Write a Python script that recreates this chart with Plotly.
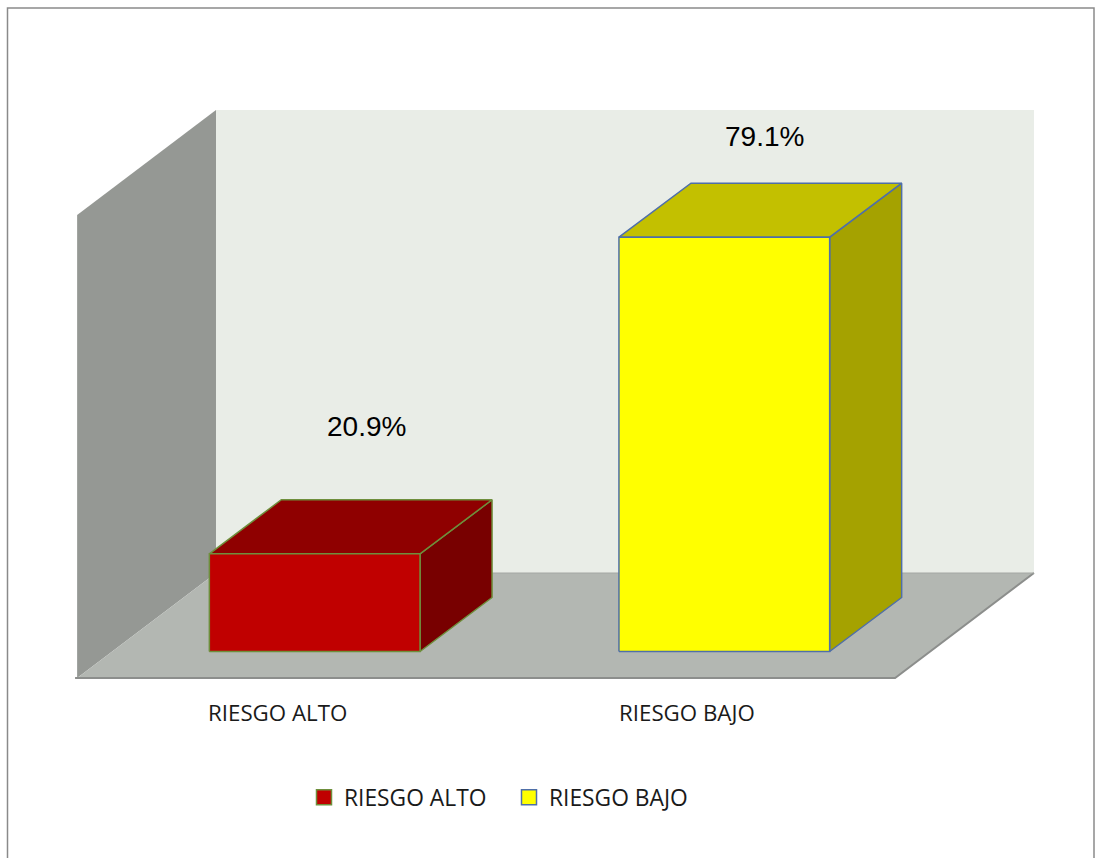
import plotly.graph_objects as go

# ---------------- data ----------------
categories = ["RIESGO ALTO", "RIESGO BAJO"]
percentages = [20.9, 79.1]
label_texts = ["20.9%", "79.1%"]

# ---------------- styles ----------------
front_colors = ["#C00000", "#FFFF00"]
top_colors = ["#8F0000", "#C3C000"]
side_colors = ["#780000", "#A5A200"]
edge_colors = ["#6E8F3C", "#4F6FA8"]
label_xshift = [52, 40]
label_yshift = [127, 101]

W, H = 1096, 858

# 3D-look geometry (axis units: x = category index, y = percent)
AXIS_MIN = 2.94          # value axis minimum at bar base
BAR_HALF = 0.2572        # half width of bar front face
BAR_DX, BAR_DY = 0.1758, 9.93   # bar depth projection
FLOOR_FRONT = -1.93      # floor level at front plane
BOX_LEFT, BOX_RIGHT = -0.580, 1.417
BOX_DX, BOX_DY = 0.339, 19.3    # full depth projection
WALL_TOP = 83.18         # top of walls at front plane
CAT_LABEL_XSHIFT = -37

X_RANGE = [-0.76831, 1.90747]
Y_RANGE = [-35.02, 122.70]

fig = go.Figure()


def poly(xs, ys, fill, line_color=None, line_width=0, name="", hover=False, text=None):
    fig.add_trace(go.Scatter(
        x=list(xs) + [xs[0]], y=list(ys) + [ys[0]],
        mode="lines", fill="toself", fillcolor=fill,
        line=dict(color=line_color or fill, width=line_width),
        hoverinfo="text" if hover else "skip", text=text,
        showlegend=False, name=name,
    ))


# back wall
bl, br = BOX_LEFT + BOX_DX, BOX_RIGHT + BOX_DX
poly([bl, br, br, bl],
     [FLOOR_FRONT + BOX_DY, FLOOR_FRONT + BOX_DY, WALL_TOP + BOX_DY, WALL_TOP + BOX_DY],
     "#E9EDE7")
# side wall
poly([BOX_LEFT, bl, bl, BOX_LEFT],
     [FLOOR_FRONT, FLOOR_FRONT + BOX_DY, WALL_TOP + BOX_DY, WALL_TOP],
     "#959894")
# floor
poly([BOX_LEFT, BOX_RIGHT, br, bl],
     [FLOOR_FRONT, FLOOR_FRONT, FLOOR_FRONT + BOX_DY, FLOOR_FRONT + BOX_DY],
     "#B3B7B2")
# floor edges (front and right)
fig.add_trace(go.Scatter(
    x=[BOX_LEFT - 0.005, BOX_RIGHT, br], y=[FLOOR_FRONT, FLOOR_FRONT, FLOOR_FRONT + BOX_DY],
    mode="lines", line=dict(color="#8C8E8C", width=2), hoverinfo="skip", showlegend=False))
fig.add_trace(go.Scatter(
    x=[bl, br], y=[FLOOR_FRONT + BOX_DY, FLOOR_FRONT + BOX_DY],
    mode="lines", line=dict(color="#A4A7A3", width=1), hoverinfo="skip", showlegend=False))

# bars
for i, (cat, v) in enumerate(zip(categories, percentages)):
    x0, x1 = i - BAR_HALF, i + BAR_HALF
    y0, y1 = AXIS_MIN, v
    ec = edge_colors[i]
    # side
    poly([x1, x1 + BAR_DX, x1 + BAR_DX, x1],
         [y0, y0 + BAR_DY, y1 + BAR_DY, y1], side_colors[i], ec, 1.5)
    # top
    poly([x0, x1, x1 + BAR_DX, x0 + BAR_DX],
         [y1, y1, y1 + BAR_DY, y1 + BAR_DY], top_colors[i], ec, 1.5)
    # front
    poly([x0, x1, x1, x0], [y0, y0, y1, y1], front_colors[i], ec, 1.5,
         name=cat, hover=True, text=f"{cat}: {label_texts[i]}")
    # data label
    fig.add_annotation(x=i, y=v, xref="x", yref="y", text=label_texts[i],
                       showarrow=False, xshift=label_xshift[i], yshift=label_yshift[i],
                       font=dict(family="Liberation Sans, Arial", size=28, color="#000000"))
    # category label
    fig.add_annotation(x=i, y=FLOOR_FRONT, xref="x", yref="y", text=cat,
                       showarrow=False, xshift=CAT_LABEL_XSHIFT, yshift=-35,
                       font=dict(family="Open Sans", size=22.3, color="#1A1A1A"))

# legend entries
for i, cat in enumerate(categories):
    fig.add_trace(go.Scatter(
        x=[None], y=[None], mode="markers", name=cat,
        marker=dict(symbol="square", size=15, color=front_colors[i],
                    line=dict(color=edge_colors[i], width=1.5)),
        showlegend=True))

fig.update_layout(
    width=W, height=H,
    margin=dict(l=0, r=0, t=0, b=0),
    paper_bgcolor="#FFFFFF", plot_bgcolor="#FFFFFF",
    xaxis=dict(range=X_RANGE, visible=False, fixedrange=True),
    yaxis=dict(range=Y_RANGE, visible=False, fixedrange=True),
    showlegend=True,
    legend=dict(orientation="h", x=304 / W, y=1 - 797.5 / H,
                xanchor="left", yanchor="middle",
                font=dict(family="Open Sans", size=22.8, color="#1A1A1A"),
                entrywidth=160, entrywidthmode="pixels",
                bgcolor="rgba(0,0,0,0)", itemclick=False, itemdoubleclick=False),
    shapes=[dict(type="rect", xref="paper", yref="paper",
                 x0=7.5 / W, x1=1094 / W, y0=-0.02, y1=1 - 8 / H,
                 line=dict(color="#8A8A8A", width=1.5), fillcolor="rgba(0,0,0,0)",
                 layer="above")],
)

fig.write_html("out.html", config={"displayModeBar": False},
               post_script="document.body.style.margin='0';")
